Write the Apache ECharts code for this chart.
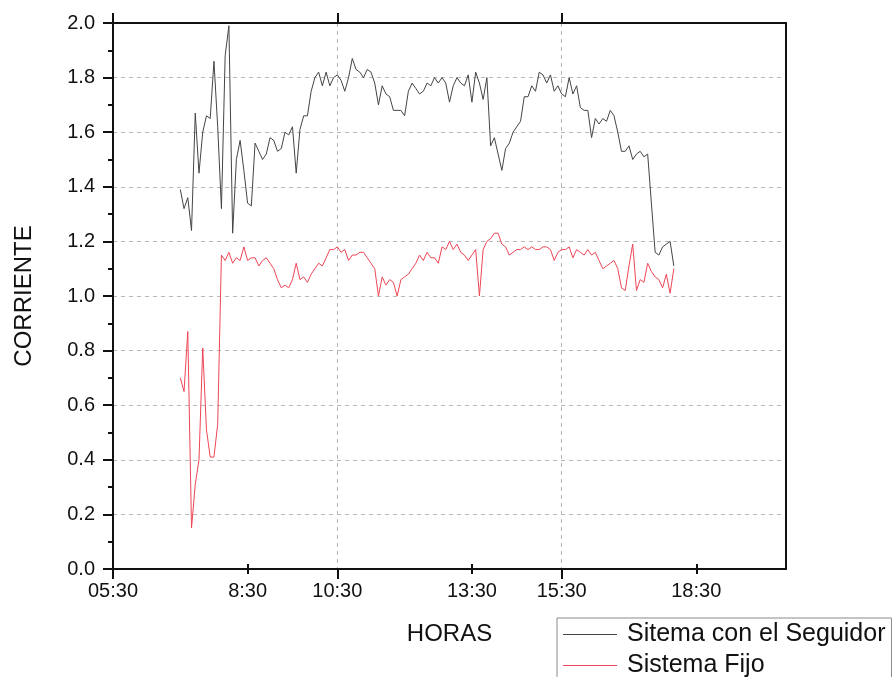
<!DOCTYPE html>
<html>
<head>
<meta charset="utf-8">
<script src="https://cdn.jsdelivr.net/npm/echarts@6/dist/echarts.min.js"></script>
<style>html,body{margin:0;padding:0;background:#fff}#c{width:893px;height:677px}</style>
</head>
<body>
<div id="c"></div>
<script>
// Sampling: every 5 minutes from 07:00 to 18:00 (x in hours after 05:30)
const startHoursAfterOrigin = 1.5;   // 07:00
const stepMinutes = 5;

// Tick labels (hours after 05:30) and their texts
const tickHours = [0, 3, 5, 8, 10, 13];
const tickLabels = ["05:30", "8:30", "10:30", "13:30", "15:30", "18:30"];
const majorTickHours = [0, 5, 10];
const minorTickHours = [3, 8, 13];

const seguidor = [
1.39,1.32,1.36,1.24,1.67,1.45,1.60,1.66,1.65,1.86,
1.62,1.32,1.88,1.99,1.23,1.50,1.57,1.46,1.34,1.33,
1.56,1.53,1.50,1.52,1.58,1.57,1.53,1.54,1.60,1.59,
1.62,1.45,1.61,1.66,1.66,1.75,1.80,1.82,1.77,1.82,
1.77,1.80,1.81,1.79,1.75,1.80,1.87,1.83,1.82,1.80,
1.83,1.82,1.78,1.70,1.77,1.74,1.73,1.68,1.68,1.68,
1.66,1.75,1.78,1.76,1.74,1.75,1.78,1.77,1.80,1.78,
1.80,1.78,1.71,1.77,1.80,1.78,1.77,1.81,1.71,1.82,
1.78,1.72,1.80,1.55,1.58,1.52,1.46,1.54,1.56,1.60,
1.62,1.64,1.73,1.73,1.77,1.75,1.82,1.81,1.78,1.81,
1.75,1.77,1.74,1.73,1.80,1.74,1.77,1.69,1.68,1.68,
1.58,1.65,1.63,1.65,1.64,1.68,1.66,1.60,1.53,1.53,
1.55,1.50,1.52,1.53,1.51,1.52,1.34,1.16,1.15,1.18,
1.19,1.20,1.11];

const fijo = [
0.70,0.65,0.87,0.15,0.31,0.40,0.81,0.51,0.41,0.41,
0.53,1.15,1.13,1.16,1.12,1.14,1.13,1.18,1.13,1.14,
1.14,1.11,1.13,1.14,1.12,1.10,1.06,1.03,1.04,1.03,
1.06,1.12,1.06,1.07,1.05,1.08,1.10,1.12,1.11,1.14,
1.17,1.17,1.18,1.16,1.17,1.13,1.15,1.15,1.16,1.16,
1.14,1.12,1.10,1.00,1.07,1.04,1.06,1.05,1.00,1.06,
1.07,1.08,1.10,1.12,1.15,1.13,1.16,1.14,1.14,1.12,
1.18,1.17,1.20,1.17,1.19,1.16,1.15,1.13,1.15,1.17,
1.00,1.17,1.20,1.21,1.23,1.23,1.19,1.18,1.15,1.16,
1.17,1.17,1.18,1.17,1.18,1.17,1.17,1.18,1.18,1.17,
1.13,1.16,1.17,1.17,1.18,1.14,1.17,1.16,1.15,1.17,
1.15,1.16,1.13,1.10,1.11,1.12,1.13,1.10,1.03,1.02,
1.11,1.19,1.02,1.06,1.05,1.12,1.09,1.07,1.06,1.03,
1.08,1.01,1.10];

const seriesNames = ["Sitema con el Seguidor", "Sistema Fijo"];

const times = seguidor.map((_, i) => startHoursAfterOrigin + i * stepMinutes / 60);
const pairs = arr => arr.map((v, i) => [times[i], v]);

const FONT = "'Liberation Sans', Arial, sans-serif";
const axisColor = '#111';
const gridLine = {show: true, lineStyle: {color: '#b8b8b8', type: [4, 4], width: 1}};
const colSeg = '#454545';
const colFijo = '#ee4656';

const labelFmt = v => {
  const k = tickHours.indexOf(Math.round(v * 1000) / 1000);
  return k >= 0 ? tickLabels[k] : '';
};

const chart = echarts.init(document.getElementById('c'), null, {renderer: 'canvas'});
chart.setOption({
  animation: false,
  backgroundColor: '#fff',
  grid: {left: 113, right: 107, top: 23, bottom: 108, containLabel: false},
  xAxis: [
    { // main bottom axis: major ticks, labels, vertical grid
      type: 'value', position: 'bottom', min: 0, max: 15, interval: 5,
      axisLine: {show: true, onZero: false, lineStyle: {color: axisColor, width: 2}},
      axisTick: {show: true, customValues: majorTickHours, length: 10, lineStyle: {color: axisColor, width: 2}},
      axisLabel: {show: true, customValues: tickHours, formatter: labelFmt, fontSize: 20, fontFamily: FONT, color: '#111', margin: 12},
      splitLine: gridLine,
      name: 'HORAS', nameLocation: 'middle', nameGap: 53,
      nameTextStyle: {fontSize: 24, fontFamily: FONT, color: '#111'}
    },
    { // bottom minor ticks
      type: 'value', position: 'bottom', min: 0, max: 15, interval: 5,
      axisLine: {show: false},
      axisTick: {show: true, customValues: minorTickHours, length: 5, lineStyle: {color: axisColor, width: 2}},
      axisLabel: {show: false}, splitLine: {show: false}
    },
    { // top major ticks
      type: 'value', position: 'top', min: 0, max: 15, interval: 5,
      axisLine: {show: true, onZero: false, lineStyle: {color: axisColor, width: 2}},
      axisTick: {show: true, customValues: majorTickHours, length: 10, lineStyle: {color: axisColor, width: 2}},
      axisLabel: {show: false}, splitLine: {show: false}
    },
    { // top minor ticks
      type: 'value', position: 'top', min: 0, max: 15, interval: 5,
      axisLine: {show: false},
      axisTick: {show: true, customValues: minorTickHours, length: 5, lineStyle: {color: axisColor, width: 2}},
      axisLabel: {show: false}, splitLine: {show: false}
    }
  ],
  yAxis: [
    {
      type: 'value', position: 'left', min: 0, max: 2, interval: 0.2,
      axisLine: {show: true, onZero: false, lineStyle: {color: axisColor, width: 2}},
      axisTick: {show: true, length: 10, lineStyle: {color: axisColor, width: 2}},
      minorTick: {show: true, splitNumber: 2, length: 5, lineStyle: {color: axisColor, width: 2}},
      axisLabel: {formatter: v => v.toFixed(1), fontSize: 20, fontFamily: FONT, color: '#111', margin: 18},
      splitLine: gridLine,
      name: 'CORRIENTE', nameLocation: 'middle', nameGap: 77,
      nameTextStyle: {fontSize: 24, fontFamily: FONT, color: '#111'}
    },
    {
      type: 'value', position: 'right', min: 0, max: 2, interval: 0.2,
      axisLine: {show: true, onZero: false, lineStyle: {color: axisColor, width: 2}},
      axisTick: {show: false}, axisLabel: {show: false}, splitLine: {show: false}
    }
  ],
  legend: {
    orient: 'vertical', left: 557, top: 618, height: 80,
    icon: 'rect', itemWidth: 54, itemHeight: 1.2, itemGap: 6,
    padding: [4, 6, 4, 6],
    borderColor: '#8a8a8a', borderWidth: 1,
    textStyle: {fontSize: 25, lineHeight: 24, fontFamily: FONT, color: '#111', padding: [0, 0, 0, 5]},
    data: seriesNames
  },
  series: [
    {
      name: seriesNames[0], type: 'line', xAxisIndex: 0, yAxisIndex: 0,
      data: pairs(seguidor), symbol: 'none', showSymbol: false,
      lineStyle: {color: colSeg, width: 1}, itemStyle: {color: colSeg}
    },
    {
      name: seriesNames[1], type: 'line', xAxisIndex: 0, yAxisIndex: 0,
      data: pairs(fijo), symbol: 'none', showSymbol: false,
      lineStyle: {color: colFijo, width: 1}, itemStyle: {color: colFijo}
    }
  ]
});
</script>
</body>
</html>
